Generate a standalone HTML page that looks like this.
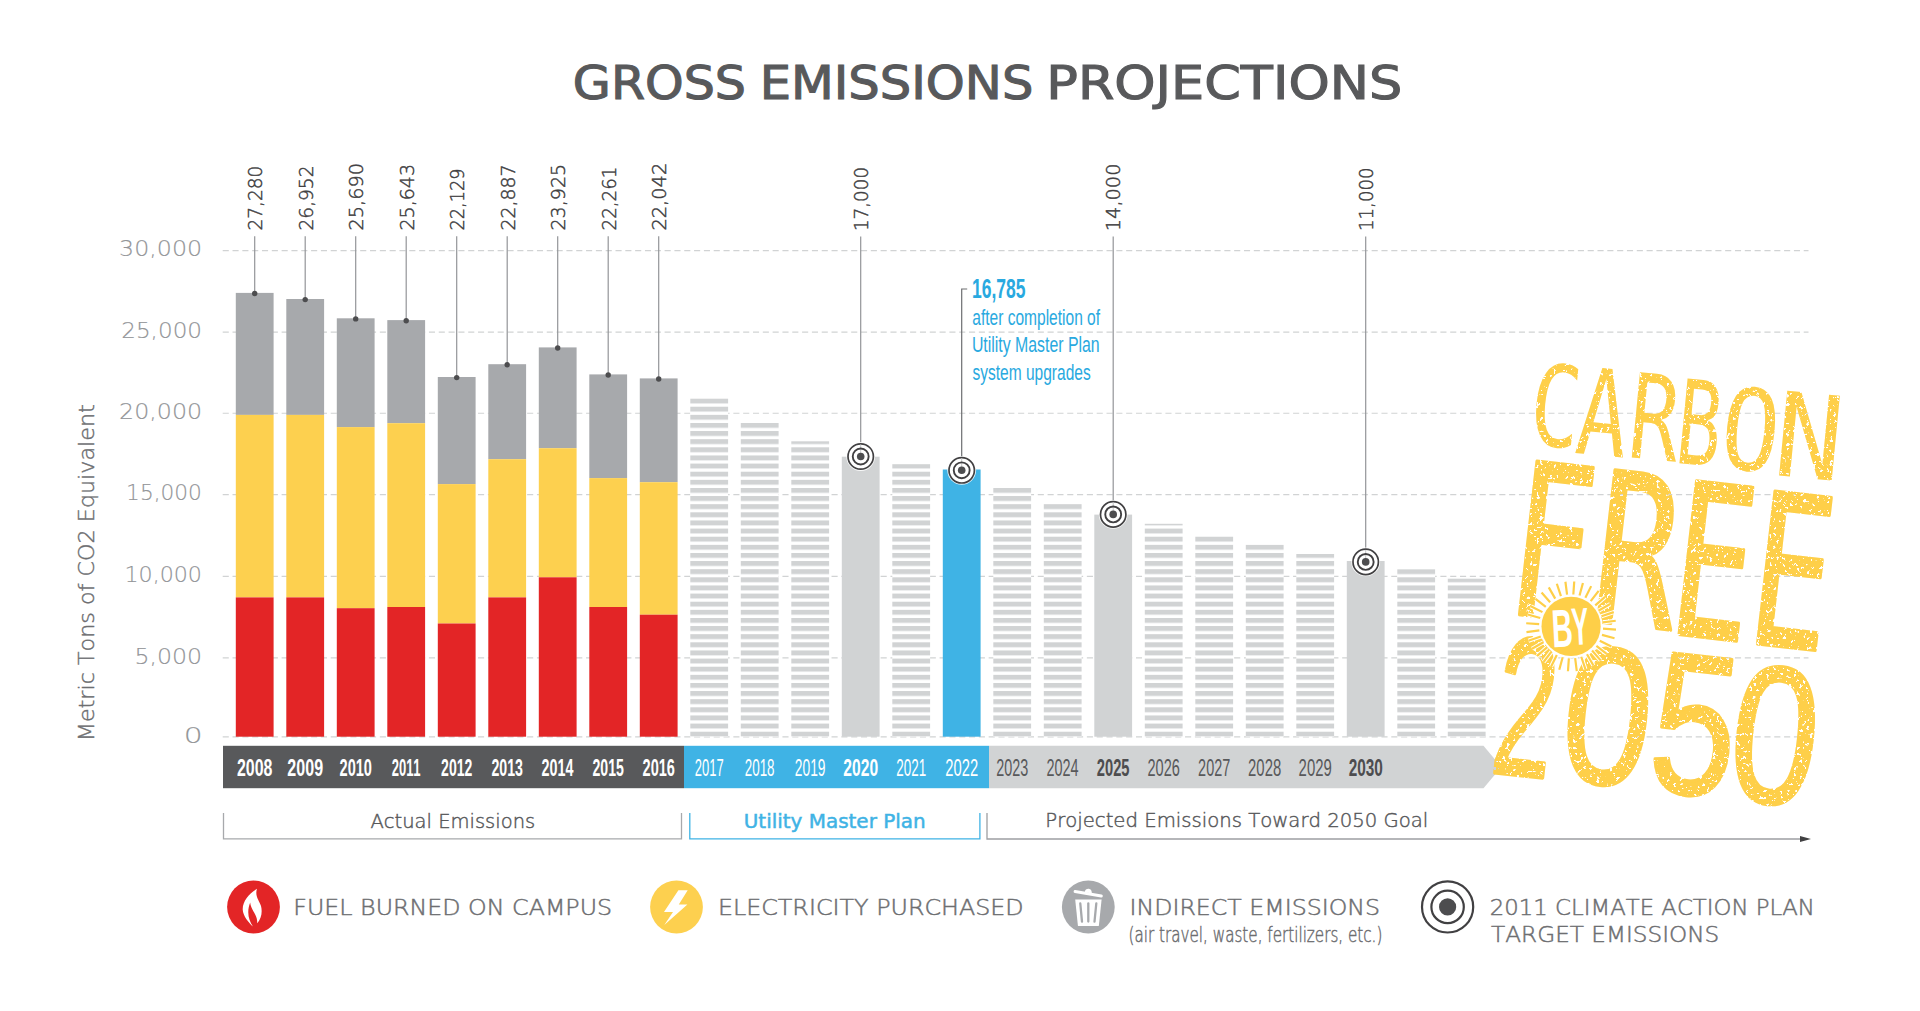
<!DOCTYPE html><html><head><meta charset="utf-8"><title>Gross Emissions Projections</title><style>html,body{margin:0;padding:0;background:#fff;overflow:hidden;}svg{display:block;} text{font-family:"Liberation Sans",Arial,sans-serif;font-kerning:none;}</style></head><body>
<svg width="1920" height="1011" viewBox="0 0 1920 1011">
<defs>
<pattern id="stripes" patternUnits="userSpaceOnUse" x="0" y="0.450" width="2000" height="8.125"><rect x="0" y="0" width="2000" height="4.90" fill="#d1d3d4"/></pattern>
</defs>
<rect width="1920" height="1011" fill="#ffffff"/>
<g aria-label="GROSS EMISSIONS PROJECTIONS">
<text x="572.84" y="98.60" font-size="45.68" style="font-family:'DejaVu Sans',sans-serif;font-weight:400" fill="#58595b" textLength="173.19" lengthAdjust="spacingAndGlyphs" stroke="#58595b" stroke-width="1.10">GROSS</text>
<text x="759.74" y="98.60" font-size="45.68" style="font-family:'DejaVu Sans',sans-serif;font-weight:400" fill="#58595b" textLength="273.62" lengthAdjust="spacingAndGlyphs" stroke="#58595b" stroke-width="1.10">EMISSIONS</text>
<text x="1046.25" y="98.60" font-size="45.68" style="font-family:'DejaVu Sans',sans-serif;font-weight:400" fill="#58595b" textLength="355.97" lengthAdjust="spacingAndGlyphs" stroke="#58595b" stroke-width="1.10">PROJECTIONS</text>
</g>
<line x1="222.7" y1="250.6" x2="1808.5" y2="250.6" stroke="#d1d3d4" stroke-width="1.1" stroke-dasharray="6.1 3.72"/>
<line x1="222.7" y1="332.1" x2="1808.5" y2="332.1" stroke="#d1d3d4" stroke-width="1.1" stroke-dasharray="6.1 3.72"/>
<line x1="222.7" y1="413.3" x2="1808.5" y2="413.3" stroke="#d1d3d4" stroke-width="1.1" stroke-dasharray="6.1 3.72"/>
<line x1="222.7" y1="494.6" x2="1808.5" y2="494.6" stroke="#d1d3d4" stroke-width="1.1" stroke-dasharray="6.1 3.72"/>
<line x1="222.7" y1="576.4" x2="1808.5" y2="576.4" stroke="#d1d3d4" stroke-width="1.1" stroke-dasharray="6.1 3.72"/>
<line x1="222.7" y1="657.9" x2="1808.5" y2="657.9" stroke="#d1d3d4" stroke-width="1.1" stroke-dasharray="6.1 3.72"/>
<line x1="222.7" y1="736.9" x2="1808.5" y2="736.9" stroke="#d1d3d4" stroke-width="1.1" stroke-dasharray="6.1 3.72"/>
<text x="119.09" y="256.30" font-size="21.40" style="font-family:'DejaVu Sans',sans-serif;font-weight:200" fill="#939598" textLength="83.01" lengthAdjust="spacingAndGlyphs" stroke="#939598" stroke-width="0.15">30,000</text>
<text x="121.20" y="337.90" font-size="21.40" style="font-family:'DejaVu Sans',sans-serif;font-weight:200" fill="#939598" textLength="80.85" lengthAdjust="spacingAndGlyphs" stroke="#939598" stroke-width="0.15">25,000</text>
<text x="119.05" y="419.10" font-size="21.40" style="font-family:'DejaVu Sans',sans-serif;font-weight:200" fill="#939598" textLength="83.05" lengthAdjust="spacingAndGlyphs" stroke="#939598" stroke-width="0.15">20,000</text>
<text x="126.12" y="500.40" font-size="21.40" style="font-family:'DejaVu Sans',sans-serif;font-weight:200" fill="#939598" textLength="75.79" lengthAdjust="spacingAndGlyphs" stroke="#939598" stroke-width="0.15">15,000</text>
<text x="124.47" y="582.10" font-size="21.40" style="font-family:'DejaVu Sans',sans-serif;font-weight:200" fill="#939598" textLength="77.49" lengthAdjust="spacingAndGlyphs" stroke="#939598" stroke-width="0.15">10,000</text>
<text x="134.47" y="663.60" font-size="21.40" style="font-family:'DejaVu Sans',sans-serif;font-weight:200" fill="#939598" textLength="67.62" lengthAdjust="spacingAndGlyphs" stroke="#939598" stroke-width="0.15">5,000</text>
<text x="183.74" y="742.60" font-size="21.40" style="font-family:'DejaVu Sans',sans-serif;font-weight:200" fill="#939598" textLength="18.91" lengthAdjust="spacingAndGlyphs" stroke="#939598" stroke-width="0.15">0</text>
<text transform="translate(93.60 737.70) rotate(-90)" x="-3.58" y="0" font-size="21.40" style="font-family:'DejaVu Sans',sans-serif;font-weight:200" fill="#6d6e71" textLength="337.11" lengthAdjust="spacingAndGlyphs" stroke="#6d6e71" stroke-width="0.40">Metric Tons of CO2 Equivalent</text>
<rect x="235.80" y="292.90" width="37.80" height="122.00" fill="#a7a9ac"/>
<rect x="235.80" y="414.90" width="37.80" height="182.50" fill="#fdd04f"/>
<rect x="235.80" y="597.40" width="37.80" height="139.30" fill="#e32526"/>
<rect x="286.30" y="299.00" width="37.80" height="115.90" fill="#a7a9ac"/>
<rect x="286.30" y="414.90" width="37.80" height="182.50" fill="#fdd04f"/>
<rect x="286.30" y="597.40" width="37.80" height="139.30" fill="#e32526"/>
<rect x="336.80" y="318.30" width="37.80" height="108.80" fill="#a7a9ac"/>
<rect x="336.80" y="427.10" width="37.80" height="181.10" fill="#fdd04f"/>
<rect x="336.80" y="608.20" width="37.80" height="128.50" fill="#e32526"/>
<rect x="387.30" y="320.10" width="37.80" height="103.10" fill="#a7a9ac"/>
<rect x="387.30" y="423.20" width="37.80" height="183.80" fill="#fdd04f"/>
<rect x="387.30" y="607.00" width="37.80" height="129.70" fill="#e32526"/>
<rect x="437.80" y="377.00" width="37.80" height="107.10" fill="#a7a9ac"/>
<rect x="437.80" y="484.10" width="37.80" height="139.40" fill="#fdd04f"/>
<rect x="437.80" y="623.50" width="37.80" height="113.20" fill="#e32526"/>
<rect x="488.30" y="364.20" width="37.80" height="95.00" fill="#a7a9ac"/>
<rect x="488.30" y="459.20" width="37.80" height="138.20" fill="#fdd04f"/>
<rect x="488.30" y="597.40" width="37.80" height="139.30" fill="#e32526"/>
<rect x="538.80" y="347.40" width="37.80" height="100.80" fill="#a7a9ac"/>
<rect x="538.80" y="448.20" width="37.80" height="129.10" fill="#fdd04f"/>
<rect x="538.80" y="577.30" width="37.80" height="159.40" fill="#e32526"/>
<rect x="589.30" y="374.40" width="37.80" height="103.70" fill="#a7a9ac"/>
<rect x="589.30" y="478.10" width="37.80" height="128.90" fill="#fdd04f"/>
<rect x="589.30" y="607.00" width="37.80" height="129.70" fill="#e32526"/>
<rect x="639.80" y="378.40" width="37.80" height="103.80" fill="#a7a9ac"/>
<rect x="639.80" y="482.20" width="37.80" height="132.50" fill="#fdd04f"/>
<rect x="639.80" y="614.70" width="37.80" height="122.00" fill="#e32526"/>
<rect x="690.30" y="398.30" width="37.80" height="338.30" fill="#ffffff"/>
<rect x="690.30" y="398.30" width="37.80" height="338.30" fill="url(#stripes)"/>
<rect x="740.80" y="422.80" width="37.80" height="313.80" fill="#ffffff"/>
<rect x="740.80" y="422.80" width="37.80" height="313.80" fill="url(#stripes)"/>
<rect x="791.30" y="441.30" width="37.80" height="295.30" fill="#ffffff"/>
<rect x="791.30" y="441.30" width="37.80" height="295.30" fill="url(#stripes)"/>
<rect x="892.30" y="464.20" width="37.80" height="272.40" fill="#ffffff"/>
<rect x="892.30" y="464.20" width="37.80" height="272.40" fill="url(#stripes)"/>
<rect x="993.30" y="487.50" width="37.80" height="249.10" fill="#ffffff"/>
<rect x="993.30" y="487.50" width="37.80" height="249.10" fill="url(#stripes)"/>
<rect x="1043.80" y="503.90" width="37.80" height="232.70" fill="#ffffff"/>
<rect x="1043.80" y="503.90" width="37.80" height="232.70" fill="url(#stripes)"/>
<rect x="1144.80" y="523.80" width="37.80" height="212.80" fill="#ffffff"/>
<rect x="1144.80" y="523.80" width="37.80" height="212.80" fill="url(#stripes)"/>
<rect x="1195.30" y="536.10" width="37.80" height="200.50" fill="#ffffff"/>
<rect x="1195.30" y="536.10" width="37.80" height="200.50" fill="url(#stripes)"/>
<rect x="1245.80" y="544.40" width="37.80" height="192.20" fill="#ffffff"/>
<rect x="1245.80" y="544.40" width="37.80" height="192.20" fill="url(#stripes)"/>
<rect x="1296.30" y="554.00" width="37.80" height="182.60" fill="#ffffff"/>
<rect x="1296.30" y="554.00" width="37.80" height="182.60" fill="url(#stripes)"/>
<rect x="1397.30" y="569.20" width="37.80" height="167.40" fill="#ffffff"/>
<rect x="1397.30" y="569.20" width="37.80" height="167.40" fill="url(#stripes)"/>
<rect x="1447.80" y="578.70" width="37.80" height="157.90" fill="#ffffff"/>
<rect x="1447.80" y="578.70" width="37.80" height="157.90" fill="url(#stripes)"/>
<rect x="841.80" y="456.70" width="37.80" height="280.00" fill="#d1d3d4"/>
<rect x="942.80" y="469.50" width="37.80" height="267.20" fill="#3fb3e5"/>
<rect x="1094.30" y="514.60" width="37.80" height="222.10" fill="#d1d3d4"/>
<rect x="1346.80" y="561.00" width="37.80" height="175.70" fill="#d1d3d4"/>
<line x1="254.70" y1="236.3" x2="254.70" y2="293.50" stroke="#939598" stroke-width="1.2"/>
<circle cx="254.70" cy="293.50" r="2.7" fill="#4d4d4f"/>
<text transform="translate(262.10 229.20) rotate(-90)" x="-1.28" y="0" font-size="18.63" style="font-family:'DejaVu Sans',sans-serif;font-weight:200" fill="#414042" textLength="64.80" lengthAdjust="spacingAndGlyphs" stroke="#414042" stroke-width="0.45">27,280</text>
<line x1="305.20" y1="236.3" x2="305.20" y2="299.60" stroke="#939598" stroke-width="1.2"/>
<circle cx="305.20" cy="299.60" r="2.7" fill="#4d4d4f"/>
<text transform="translate(312.60 229.20) rotate(-90)" x="-1.29" y="0" font-size="18.63" style="font-family:'DejaVu Sans',sans-serif;font-weight:200" fill="#414042" textLength="64.94" lengthAdjust="spacingAndGlyphs" stroke="#414042" stroke-width="0.45">26,952</text>
<line x1="355.70" y1="236.3" x2="355.70" y2="318.90" stroke="#939598" stroke-width="1.2"/>
<circle cx="355.70" cy="318.90" r="2.7" fill="#4d4d4f"/>
<text transform="translate(363.10 229.20) rotate(-90)" x="-1.34" y="0" font-size="18.63" style="font-family:'DejaVu Sans',sans-serif;font-weight:200" fill="#414042" textLength="67.63" lengthAdjust="spacingAndGlyphs" stroke="#414042" stroke-width="0.45">25,690</text>
<line x1="406.20" y1="236.3" x2="406.20" y2="320.70" stroke="#939598" stroke-width="1.2"/>
<circle cx="406.20" cy="320.70" r="2.7" fill="#4d4d4f"/>
<text transform="translate(413.60 229.20) rotate(-90)" x="-1.32" y="0" font-size="18.63" style="font-family:'DejaVu Sans',sans-serif;font-weight:200" fill="#414042" textLength="66.51" lengthAdjust="spacingAndGlyphs" stroke="#414042" stroke-width="0.45">25,643</text>
<line x1="456.70" y1="236.3" x2="456.70" y2="377.60" stroke="#939598" stroke-width="1.2"/>
<circle cx="456.70" cy="377.60" r="2.7" fill="#4d4d4f"/>
<text transform="translate(464.10 229.20) rotate(-90)" x="-1.23" y="0" font-size="18.63" style="font-family:'DejaVu Sans',sans-serif;font-weight:200" fill="#414042" textLength="61.97" lengthAdjust="spacingAndGlyphs" stroke="#414042" stroke-width="0.45">22,129</text>
<line x1="507.20" y1="236.3" x2="507.20" y2="364.80" stroke="#939598" stroke-width="1.2"/>
<circle cx="507.20" cy="364.80" r="2.7" fill="#4d4d4f"/>
<text transform="translate(514.60 229.20) rotate(-90)" x="-1.31" y="0" font-size="18.63" style="font-family:'DejaVu Sans',sans-serif;font-weight:200" fill="#414042" textLength="66.00" lengthAdjust="spacingAndGlyphs" stroke="#414042" stroke-width="0.45">22,887</text>
<line x1="557.70" y1="236.3" x2="557.70" y2="348.00" stroke="#939598" stroke-width="1.2"/>
<circle cx="557.70" cy="348.00" r="2.7" fill="#4d4d4f"/>
<text transform="translate(565.10 229.20) rotate(-90)" x="-1.32" y="0" font-size="18.63" style="font-family:'DejaVu Sans',sans-serif;font-weight:200" fill="#414042" textLength="66.64" lengthAdjust="spacingAndGlyphs" stroke="#414042" stroke-width="0.45">23,925</text>
<line x1="608.20" y1="236.3" x2="608.20" y2="375.00" stroke="#939598" stroke-width="1.2"/>
<circle cx="608.20" cy="375.00" r="2.7" fill="#4d4d4f"/>
<text transform="translate(615.60 229.20) rotate(-90)" x="-1.27" y="0" font-size="18.63" style="font-family:'DejaVu Sans',sans-serif;font-weight:200" fill="#414042" textLength="63.90" lengthAdjust="spacingAndGlyphs" stroke="#414042" stroke-width="0.45">22,261</text>
<line x1="658.70" y1="236.3" x2="658.70" y2="379.00" stroke="#939598" stroke-width="1.2"/>
<circle cx="658.70" cy="379.00" r="2.7" fill="#4d4d4f"/>
<text transform="translate(666.10 229.20) rotate(-90)" x="-1.34" y="0" font-size="18.63" style="font-family:'DejaVu Sans',sans-serif;font-weight:200" fill="#414042" textLength="67.78" lengthAdjust="spacingAndGlyphs" stroke="#414042" stroke-width="0.45">22,042</text>
<line x1="860.70" y1="236.5" x2="860.70" y2="456.50" stroke="#939598" stroke-width="1.2"/>
<text transform="translate(867.70 229.10) rotate(-90)" x="-2.02" y="0" font-size="18.63" style="font-family:'DejaVu Sans',sans-serif;font-weight:200" fill="#414042" textLength="64.33" lengthAdjust="spacingAndGlyphs" stroke="#414042" stroke-width="0.45">17,000</text>
<circle cx="860.70" cy="456.50" r="14.4" fill="#ffffff" fill-opacity="0.85"/>
<circle cx="860.70" cy="456.50" r="12.7" fill="#ffffff" stroke="#414042" stroke-width="1.7"/>
<line x1="860.70" y1="444.50" x2="860.70" y2="456.50" stroke="#c7c8ca" stroke-width="1"/>
<circle cx="860.70" cy="456.50" r="7.95" fill="none" stroke="#414042" stroke-width="1.9"/>
<circle cx="860.70" cy="456.50" r="3.8" fill="#4d4d4f"/>
<polyline points="961.70,470.30 961.70,289.0 967.2,289.0" fill="none" stroke="#6d6e71" stroke-width="1.2"/>
<circle cx="961.70" cy="470.30" r="14.4" fill="#ffffff" fill-opacity="0.85"/>
<circle cx="961.70" cy="470.30" r="12.7" fill="#ffffff" stroke="#414042" stroke-width="1.7"/>
<line x1="961.70" y1="458.30" x2="961.70" y2="470.30" stroke="#c7c8ca" stroke-width="1"/>
<circle cx="961.70" cy="470.30" r="7.95" fill="none" stroke="#414042" stroke-width="1.9"/>
<circle cx="961.70" cy="470.30" r="3.8" fill="#4d4d4f"/>
<line x1="1113.20" y1="236.5" x2="1113.20" y2="514.40" stroke="#939598" stroke-width="1.2"/>
<text transform="translate(1120.20 229.10) rotate(-90)" x="-2.13" y="0" font-size="18.63" style="font-family:'DejaVu Sans',sans-serif;font-weight:200" fill="#414042" textLength="67.72" lengthAdjust="spacingAndGlyphs" stroke="#414042" stroke-width="0.45">14,000</text>
<circle cx="1113.20" cy="514.40" r="14.4" fill="#ffffff" fill-opacity="0.85"/>
<circle cx="1113.20" cy="514.40" r="12.7" fill="#ffffff" stroke="#414042" stroke-width="1.7"/>
<line x1="1113.20" y1="502.40" x2="1113.20" y2="514.40" stroke="#c7c8ca" stroke-width="1"/>
<circle cx="1113.20" cy="514.40" r="7.95" fill="none" stroke="#414042" stroke-width="1.9"/>
<circle cx="1113.20" cy="514.40" r="3.8" fill="#4d4d4f"/>
<line x1="1365.70" y1="236.5" x2="1365.70" y2="561.90" stroke="#939598" stroke-width="1.2"/>
<text transform="translate(1372.70 229.10) rotate(-90)" x="-2.00" y="0" font-size="18.63" style="font-family:'DejaVu Sans',sans-serif;font-weight:200" fill="#414042" textLength="63.79" lengthAdjust="spacingAndGlyphs" stroke="#414042" stroke-width="0.45">11,000</text>
<circle cx="1365.70" cy="561.90" r="14.4" fill="#ffffff" fill-opacity="0.85"/>
<circle cx="1365.70" cy="561.90" r="12.7" fill="#ffffff" stroke="#414042" stroke-width="1.7"/>
<line x1="1365.70" y1="549.90" x2="1365.70" y2="561.90" stroke="#c7c8ca" stroke-width="1"/>
<circle cx="1365.70" cy="561.90" r="7.95" fill="none" stroke="#414042" stroke-width="1.9"/>
<circle cx="1365.70" cy="561.90" r="3.8" fill="#4d4d4f"/>
<text x="972.00" y="297.50" font-size="27.12" font-weight="bold" fill="#29a9e0" textLength="53.49" lengthAdjust="spacingAndGlyphs" >16,785</text>
<text x="972.24" y="324.60" font-size="21.51" fill="#29a9e0" textLength="127.84" lengthAdjust="spacingAndGlyphs" >after completion of</text>
<text x="971.88" y="351.90" font-size="21.51" fill="#29a9e0" textLength="127.75" lengthAdjust="spacingAndGlyphs" >Utility Master Plan</text>
<text x="972.47" y="379.80" font-size="21.51" fill="#29a9e0" textLength="118.19" lengthAdjust="spacingAndGlyphs" >system upgrades</text>
<rect x="223" y="745.8" width="461" height="42.4" fill="#58595b"/>
<rect x="684" y="745.8" width="305" height="42.4" fill="#3fb3e5"/>
<polygon points="989,745.8 1483.5,745.8 1501.3,767 1483.5,788.2 989,788.2" fill="#d1d3d4"/>
<text x="236.95" y="776.40" font-size="23.30" font-weight="bold" fill="#ffffff" textLength="35.44" lengthAdjust="spacingAndGlyphs" >2008</text>
<text x="287.34" y="776.40" font-size="23.30" font-weight="bold" fill="#ffffff" textLength="35.75" lengthAdjust="spacingAndGlyphs" >2009</text>
<text x="339.55" y="776.40" font-size="23.30" font-weight="bold" fill="#ffffff" textLength="32.40" lengthAdjust="spacingAndGlyphs" >2010</text>
<text x="391.70" y="776.40" font-size="23.30" font-weight="bold" fill="#ffffff" textLength="28.91" lengthAdjust="spacingAndGlyphs" >2011</text>
<text x="441.11" y="776.40" font-size="23.30" font-weight="bold" fill="#ffffff" textLength="31.25" lengthAdjust="spacingAndGlyphs" >2012</text>
<text x="491.46" y="776.40" font-size="23.30" font-weight="bold" fill="#ffffff" textLength="31.50" lengthAdjust="spacingAndGlyphs" >2013</text>
<text x="541.55" y="776.40" font-size="23.30" font-weight="bold" fill="#ffffff" textLength="31.87" lengthAdjust="spacingAndGlyphs" >2014</text>
<text x="592.46" y="776.40" font-size="23.30" font-weight="bold" fill="#ffffff" textLength="31.38" lengthAdjust="spacingAndGlyphs" >2015</text>
<text x="642.55" y="776.40" font-size="23.30" font-weight="bold" fill="#ffffff" textLength="32.33" lengthAdjust="spacingAndGlyphs" >2016</text>
<text x="694.75" y="776.40" font-size="23.30" fill="#ffffff" textLength="28.91" lengthAdjust="spacingAndGlyphs" >2017</text>
<text x="744.72" y="776.40" font-size="23.30" fill="#ffffff" textLength="29.86" lengthAdjust="spacingAndGlyphs" >2018</text>
<text x="794.80" y="776.40" font-size="23.30" fill="#ffffff" textLength="30.75" lengthAdjust="spacingAndGlyphs" >2019</text>
<text x="843.36" y="776.40" font-size="23.30" font-weight="bold" fill="#ffffff" textLength="34.78" lengthAdjust="spacingAndGlyphs" >2020</text>
<text x="896.22" y="776.40" font-size="23.30" fill="#ffffff" textLength="29.93" lengthAdjust="spacingAndGlyphs" >2021</text>
<text x="945.31" y="776.40" font-size="23.30" fill="#ffffff" textLength="32.78" lengthAdjust="spacingAndGlyphs" >2022</text>
<text x="996.13" y="776.40" font-size="23.30" fill="#58595b" textLength="32.06" lengthAdjust="spacingAndGlyphs" >2023</text>
<text x="1046.47" y="776.40" font-size="23.30" fill="#58595b" textLength="32.15" lengthAdjust="spacingAndGlyphs" >2024</text>
<text x="1096.79" y="776.40" font-size="23.30" font-weight="bold" fill="#4d4d4f" textLength="32.72" lengthAdjust="spacingAndGlyphs" >2025</text>
<text x="1147.47" y="776.40" font-size="23.30" fill="#58595b" textLength="32.37" lengthAdjust="spacingAndGlyphs" >2026</text>
<text x="1198.12" y="776.40" font-size="23.30" fill="#58595b" textLength="32.15" lengthAdjust="spacingAndGlyphs" >2027</text>
<text x="1248.10" y="776.40" font-size="23.30" fill="#58595b" textLength="33.09" lengthAdjust="spacingAndGlyphs" >2028</text>
<text x="1298.60" y="776.40" font-size="23.30" fill="#58595b" textLength="33.16" lengthAdjust="spacingAndGlyphs" >2029</text>
<text x="1348.67" y="776.40" font-size="23.30" font-weight="bold" fill="#4d4d4f" textLength="34.16" lengthAdjust="spacingAndGlyphs" >2030</text>
<polyline points="223.5,813 223.5,838.8 681.5,838.8 681.5,813" fill="none" stroke="#a7a9ac" stroke-width="1.3"/>
<polyline points="689.8,813 689.8,838.8 979.9,838.8 979.9,813" fill="none" stroke="#3fb3e5" stroke-width="1.3"/>
<polyline points="987,813 987,839 1801,839" fill="none" stroke="#9d9fa2" stroke-width="1.3"/>
<polygon points="1800,836 1811,839 1800,842" fill="#414042"/>
<text x="370.42" y="827.50" font-size="19.75" style="font-family:'DejaVu Sans',sans-serif;font-weight:200" fill="#58595b" textLength="164.78" lengthAdjust="spacingAndGlyphs" stroke="#58595b" stroke-width="0.45">Actual Emissions</text>
<text x="743.77" y="827.50" font-size="19.75" style="font-family:'DejaVu Sans',sans-serif;font-weight:400" fill="#3fb3e5" textLength="181.83" lengthAdjust="spacingAndGlyphs" stroke="#3fb3e5" stroke-width="0.50">Utility Master Plan</text>
<text x="1045.30" y="827.30" font-size="19.75" style="font-family:'DejaVu Sans',sans-serif;font-weight:200" fill="#58595b" textLength="383.05" lengthAdjust="spacingAndGlyphs" stroke="#58595b" stroke-width="0.45">Projected Emissions Toward 2050 Goal</text>
<circle cx="253.5" cy="907" r="26.4" fill="#e32526"/>
<path transform="translate(253.5 907)" d="M3.5,-18.2 C-4,-14 -11,-6 -10.8,2.5 C-10.5,9 -5,15.5 -0.6,19.5 C-5,13 -7,5 -3.3,-4.4 C-3,2 3,7 3.6,13.5 L3.8,16.2 C8,11 9,5 7.5,-1 C6,-6 1,-11 3.5,-18.2 Z" fill="#ffffff"/>
<text x="293.30" y="914.90" font-size="20.58" style="font-family:'DejaVu Sans',sans-serif;font-weight:200" fill="#6d6e71" textLength="318.83" lengthAdjust="spacingAndGlyphs" stroke="#6d6e71" stroke-width="0.45">FUEL BURNED ON CAMPUS</text>
<circle cx="676.5" cy="907" r="26.4" fill="#fdd04f"/>
<polygon transform="translate(676.5 907)" points="1.9,-16.7 11.2,-16.7 2.3,-2.4 10.9,-2.4 -12.2,18.1 -3.5,5 -12.5,5" fill="#ffffff"/>
<text x="717.91" y="914.80" font-size="20.58" style="font-family:'DejaVu Sans',sans-serif;font-weight:200" fill="#6d6e71" textLength="305.78" lengthAdjust="spacingAndGlyphs" stroke="#6d6e71" stroke-width="0.45">ELECTRICITY PURCHASED</text>
<circle cx="1088.3" cy="907" r="26.4" fill="#a7a9ac"/>
<g transform="translate(1088.3 907)" fill="#ffffff"><path d="M-13.1,-7.6 L13.3,-7.6 L10.6,18.4 Q10.5,19.1 9.8,19.1 L-9.6,19.1 Q-10.3,19.1 -10.4,18.4 Z"/><line x1="-13.2" y1="-15.5" x2="13" y2="-11" stroke="#ffffff" stroke-width="3" stroke-linecap="round"/><path d="M-3.5,-15 Q-3,-18.5 0.5,-18.3 Q3.5,-18 3.5,-13.5 Z"/></g>
<g transform="translate(1088.3 907)" stroke="#a7a9ac" stroke-width="2.3" stroke-linecap="round"><line x1="-8" y1="-3.5" x2="-6.3" y2="14.6"/><line x1="0" y1="-3.5" x2="0" y2="14.6"/><line x1="8" y1="-3.5" x2="6.2" y2="14.6"/></g>
<text x="1129.53" y="914.70" font-size="20.58" style="font-family:'DejaVu Sans',sans-serif;font-weight:200" fill="#6d6e71" textLength="250.50" lengthAdjust="spacingAndGlyphs" stroke="#6d6e71" stroke-width="0.45">INDIRECT EMISSIONS</text>
<text x="1128.54" y="942.00" font-size="20.85" style="font-family:'DejaVu Sans',sans-serif;font-weight:200" fill="#6d6e71" textLength="253.82" lengthAdjust="spacingAndGlyphs" stroke="#6d6e71" stroke-width="0.50">(air travel, waste, fertilizers, etc.)</text>
<circle cx="1447.6" cy="906.9" r="25.6" fill="none" stroke="#414042" stroke-width="2.2"/>
<circle cx="1447.6" cy="906.9" r="16.2" fill="none" stroke="#414042" stroke-width="2.2"/>
<circle cx="1447.6" cy="906.9" r="8.6" fill="#4d4d4f"/>
<text x="1489.82" y="915.30" font-size="20.85" style="font-family:'DejaVu Sans',sans-serif;font-weight:200" fill="#6d6e71" textLength="325.06" lengthAdjust="spacingAndGlyphs" stroke="#6d6e71" stroke-width="0.45">2011 CLIMATE ACTION PLAN</text>
<text x="1491.09" y="942.00" font-size="20.85" style="font-family:'DejaVu Sans',sans-serif;font-weight:200" fill="#6d6e71" textLength="228.20" lengthAdjust="spacingAndGlyphs" stroke="#6d6e71" stroke-width="0.45">TARGET EMISSIONS</text>
<filter id="grunge" filterUnits="userSpaceOnUse" x="1480" y="340" width="400" height="480"><feTurbulence type="fractalNoise" baseFrequency="0.3" numOctaves="3" seed="7" result="n"/><feColorMatrix in="n" type="matrix" values="0 0 0 0 0  0 0 0 0 0  0 0 0 0 0  -25 0 0 0 17.1" result="m"/><feComposite in="SourceGraphic" in2="m" operator="in"/></filter>
<g id="carbonfree"><g filter="url(#grunge)">
<text aria-label="CARBON" style="font-family:'DejaVu Sans Mono',monospace;font-weight:normal" transform="translate(1555.65 405.26) rotate(5.50)" fill="#fecf48" ><tspan x="-24.77" y="41.03" font-size="112.72" textLength="50.39" lengthAdjust="spacingAndGlyphs">C</tspan><tspan x="22.53" y="45.43" font-size="119.62" textLength="50.86" lengthAdjust="spacingAndGlyphs">A</tspan><tspan x="74.90" y="44.87" font-size="117.60" textLength="50.11" lengthAdjust="spacingAndGlyphs">R</tspan><tspan x="122.87" y="45.99" font-size="116.80" textLength="44.45" lengthAdjust="spacingAndGlyphs">B</tspan><tspan x="167.28" y="46.19" font-size="112.67" textLength="58.61" lengthAdjust="spacingAndGlyphs">O</tspan><tspan x="221.61" y="48.52" font-size="116.85" textLength="68.16" lengthAdjust="spacingAndGlyphs">N</tspan></text>
<text aria-label="FREE" style="font-family:'DejaVu Sans Mono',monospace;font-weight:normal" transform="translate(1556.41 541.04) rotate(6.50)" fill="#fecf48" stroke="#fecf48" stroke-width="3.6" vector-effect="non-scaling-stroke" stroke-linejoin="round"><tspan x="-43.92" y="77.09" font-size="211.49" textLength="80.52" lengthAdjust="spacingAndGlyphs">F</tspan><tspan x="40.05" y="75.33" font-size="209.40" textLength="83.72" lengthAdjust="spacingAndGlyphs">R</tspan><tspan x="119.17" y="78.83" font-size="211.54" textLength="79.86" lengthAdjust="spacingAndGlyphs">E</tspan><tspan x="198.34" y="79.18" font-size="210.45" textLength="79.93" lengthAdjust="spacingAndGlyphs">E</tspan></text>
<text aria-label="2050" font-weight="normal" transform="translate(1526.08 706.57) rotate(6.20)" fill="#fecf48" stroke="#fecf48" stroke-width="3.6" vector-effect="non-scaling-stroke" stroke-linejoin="round"><tspan x="-30.13" y="69.07" font-size="197.83" textLength="60.25" lengthAdjust="spacingAndGlyphs">2</tspan><tspan x="38.29" y="68.13" font-size="194.66" textLength="88.13" lengthAdjust="spacingAndGlyphs">0</tspan><tspan x="127.56" y="69.09" font-size="200.28" textLength="84.46" lengthAdjust="spacingAndGlyphs">5</tspan><tspan x="207.36" y="69.29" font-size="195.05" textLength="86.87" lengthAdjust="spacingAndGlyphs">0</tspan></text>
</g>
<path d="M1603.02,628.63L1615.99,629.54M1601.97,634.82L1614.52,638.24M1599.74,640.68L1611.37,646.48M1596.40,645.99L1606.68,653.95M1592.09,650.55L1600.62,660.36M1586.98,654.18L1593.43,665.47M1581.25,656.75L1585.38,669.07M1575.14,658.14L1576.78,671.04M1568.87,658.32L1567.96,671.29M1562.68,657.27L1559.26,669.82M1556.82,655.04L1551.02,666.67M1551.51,651.70L1543.55,661.98M1546.95,647.39L1537.14,655.92M1543.32,642.28L1532.03,648.73M1540.75,636.55L1528.43,640.68M1539.36,630.44L1526.46,632.08M1539.18,624.17L1526.21,623.26M1540.23,617.98L1527.68,614.56M1542.46,612.12L1530.83,606.32M1545.80,606.81L1535.52,598.85M1550.11,602.25L1541.58,592.44M1555.22,598.62L1548.77,587.33M1560.95,596.05L1556.82,583.73M1567.06,594.66L1565.42,581.76M1573.33,594.48L1574.24,581.51M1579.52,595.53L1582.94,582.98M1585.38,597.76L1591.18,586.13M1590.69,601.10L1598.65,590.82M1595.25,605.41L1605.06,596.88M1598.88,610.52L1610.17,604.07M1601.45,616.25L1613.77,612.12M1602.84,622.36L1615.74,620.72" stroke="#ffffff" stroke-width="4.2" fill="none"/>
<circle cx="1571.10" cy="626.40" r="31.6" fill="#ffffff"/>
<path d="M1603.02,628.63L1615.99,629.54M1601.97,634.82L1614.52,638.24M1599.74,640.68L1611.37,646.48M1596.40,645.99L1606.68,653.95M1592.09,650.55L1600.62,660.36M1586.98,654.18L1593.43,665.47M1581.25,656.75L1585.38,669.07M1575.14,658.14L1576.78,671.04M1568.87,658.32L1567.96,671.29M1562.68,657.27L1559.26,669.82M1556.82,655.04L1551.02,666.67M1551.51,651.70L1543.55,661.98M1546.95,647.39L1537.14,655.92M1543.32,642.28L1532.03,648.73M1540.75,636.55L1528.43,640.68M1539.36,630.44L1526.46,632.08M1539.18,624.17L1526.21,623.26M1540.23,617.98L1527.68,614.56M1542.46,612.12L1530.83,606.32M1545.80,606.81L1535.52,598.85M1550.11,602.25L1541.58,592.44M1555.22,598.62L1548.77,587.33M1560.95,596.05L1556.82,583.73M1567.06,594.66L1565.42,581.76M1573.33,594.48L1574.24,581.51M1579.52,595.53L1582.94,582.98M1585.38,597.76L1591.18,586.13M1590.69,601.10L1598.65,590.82M1595.25,605.41L1605.06,596.88M1598.88,610.52L1610.17,604.07M1601.45,616.25L1613.77,612.12M1602.84,622.36L1615.74,620.72" stroke="#fecf48" stroke-width="2.2" fill="none"/>
<circle cx="1571.10" cy="626.40" r="29.6" fill="#fecf48"/>
<text aria-label="BY" font-weight="bold" transform="translate(1562.40 628.20) rotate(-3.00)" fill="#ffffff" ><tspan x="-10.73" y="18.40" font-size="53.49" textLength="20.84" lengthAdjust="spacingAndGlyphs">B</tspan><tspan x="9.13" y="17.32" font-size="52.62" textLength="17.05" lengthAdjust="spacingAndGlyphs">Y</tspan></text>
</g>
</svg></body></html>
